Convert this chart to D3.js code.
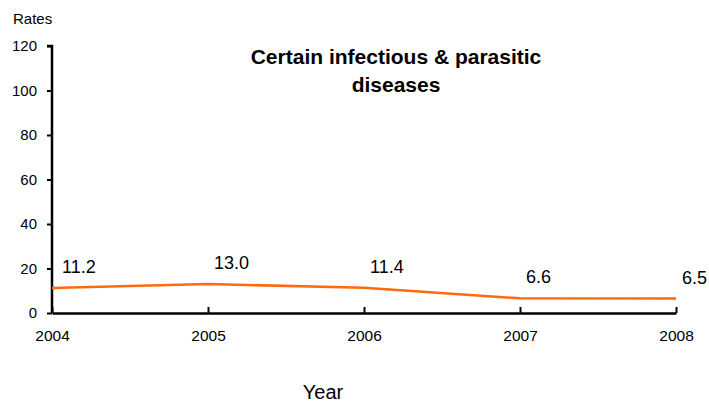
<!DOCTYPE html>
<html><head><meta charset="utf-8">
<script src="https://cdn.jsdelivr.net/npm/d3@7"></script>
<style>body{margin:0;background:#fff}svg{display:block}text{font-family:Arial,"Liberation Sans",sans-serif;fill:#000}</style>
</head><body><svg id="c" width="709" height="403"></svg>
<script>
const years = ["2004","2005","2006","2007","2008"];
const rates = [11.2, 13.0, 11.4, 6.6, 6.5];
const yTicks = [0,20,40,60,80,100,120];
const titleLines = ["Certain infectious & parasitic","diseases"];

const svg = d3.select("#c");
const x = d3.scalePoint().domain(years).range([52,676]);
const y = d3.scaleLinear().domain([0,120]).range([313,46]);

// y axis
const ya = svg.append("g").attr("transform","translate(52,0)")
  .call(d3.axisLeft(y).tickValues(yTicks).tickSize(5).tickPadding(10));
ya.selectAll("text").style("font-size","15px");
// x axis
const xa = svg.append("g").attr("transform","translate(0,313)")
  .call(d3.axisBottom(x).tickSize(-6).tickPadding(17).tickSizeOuter(0));
xa.selectAll("text").style("font-size","15.5px");
[ya,xa].forEach(a=>{a.select(".domain").attr("stroke","#000").attr("stroke-width",2.5);
  a.selectAll(".tick line").attr("stroke","#000").attr("stroke-width",2);
  a.selectAll("text").attr("font-family","Arial, 'Liberation Sans', sans-serif");});
ya.select(".domain").attr("d","M-5,46H0V313");

const line = d3.line().x((d,i)=>x(years[i])).y(d=>y(d));
svg.append("path").datum(rates).attr("d",line).attr("fill","none")
  .attr("stroke","#FF6A0F").attr("stroke-width",2.5);

svg.selectAll(".lbl").data(rates).enter().append("text")
  .attr("x",(d,i)=>x(years[i])+(i===0?10:6)).attr("y",d=>y(d)-15)
  .style("font-size","18px").text(d=>d.toFixed(1));

svg.append("text").attr("x",13).attr("y",24).style("font-size","15px").text("Rates");
svg.append("text").attr("x",323).attr("y",399).attr("text-anchor","middle").style("font-size","20px").text("Year");
titleLines.forEach((t,i)=>svg.append("text").attr("x",396).attr("y",64+i*28)
  .attr("text-anchor","middle").style("font-size","21px").style("font-weight","bold").text(t));
</script></body></html>
